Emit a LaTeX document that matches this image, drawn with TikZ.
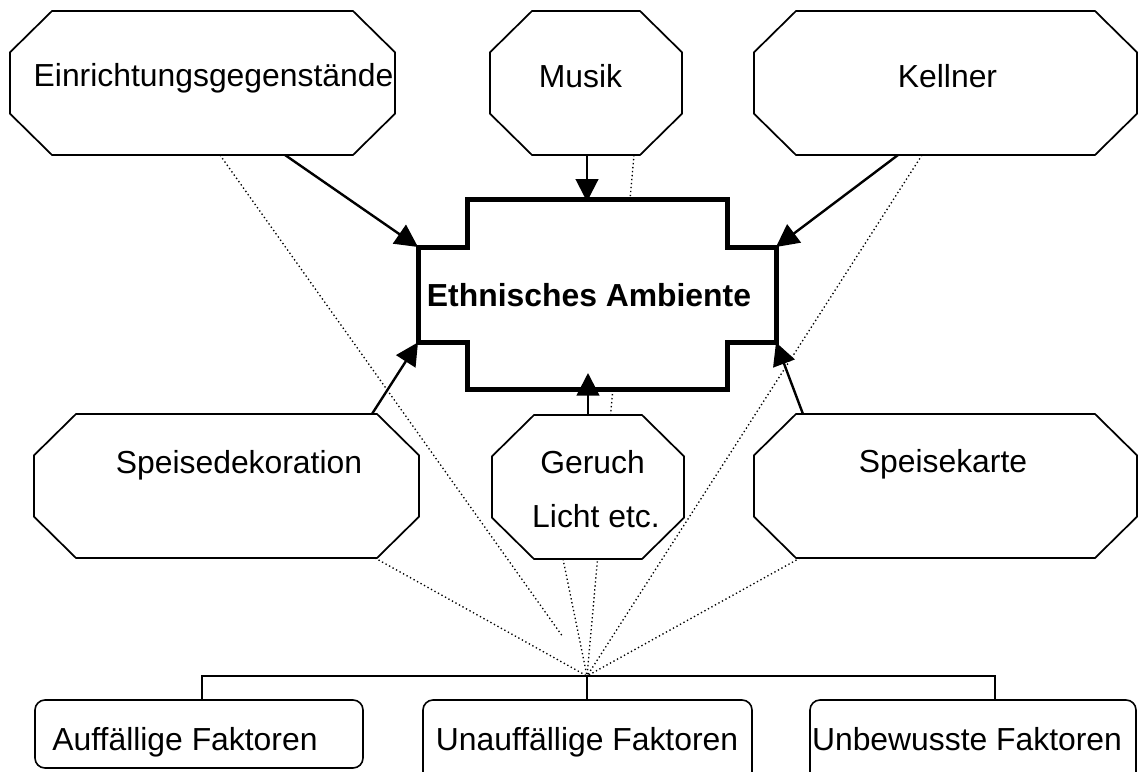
\documentclass[tikz,border=0pt]{standalone}
\usepackage{fontspec}
\setmainfont{Liberation Sans}
\usetikzlibrary{arrows.meta}
\pgfdeclarelayer{bg}
\pgfsetlayers{bg,main}
\newcommand\octa[5]{%
  \node[box, minimum width={(#4-#2)*0.75pt}, minimum height={(#5-#3)*0.75pt}] (#1) at ({(#2+#4)/2},{(#3+#5)/2}) {};
  \filldraw[octline] ([xshift=31.5pt]#1.north west) -- ([xshift=-31.5pt]#1.north east)
    -- ([yshift=-31pt]#1.north east) -- ([yshift=31pt]#1.south east)
    -- ([xshift=-31.5pt]#1.south east) -- ([xshift=31.5pt]#1.south west)
    -- ([yshift=31pt]#1.south west) -- ([yshift=-31pt]#1.north west) -- cycle;
}
\begin{document}
\begin{tikzpicture}[x=0.75pt,y=-0.75pt,
  box/.style={rectangle, draw=none, inner sep=0pt, outer sep=0pt},
  octline/.style={draw=black, line width=1.3pt, fill=white, line join=miter},
  crossline/.style={draw=black, line width=3.75pt, fill=white, line join=miter},
  rbox/.style={rectangle, rounded corners=7.5pt, draw=black, line width=1.2pt, fill=white, inner sep=0pt, outer sep=0pt},
  arr/.style={line width=1.8pt, -{Triangle[length=17pt,width=17pt]}},
  dots/.style={line width=1pt, dash pattern=on 1pt off 2pt},
  treeline/.style={line width=1.2pt},
  lbl/.style={font=\fontsize{23.9}{28}\selectfont, inner sep=0pt, anchor=base},
]
\useasboundingbox (0,0) rectangle (1138,771);
\clip (0,0) rectangle (1138,771);

% octagons
\octa{ein}{10}{11}{395}{155}
\octa{mus}{490}{11}{682}{155}
\octa{kel}{754}{11}{1137}{155}
\octa{spd}{34}{414}{419}{558}
\octa{ger}{492}{415}{684}{559}
\octa{spk}{754}{414}{1137}{558}

% central cross
\node[box, minimum width=268.5pt, minimum height=142.5pt] (amb) at (597,294) {};
\filldraw[crossline] ([xshift=36.75pt]amb.north west) -- ([xshift=-36.75pt]amb.north east)
  -- ([xshift=-36.75pt,yshift=-36pt]amb.north east) -- ([yshift=-36pt]amb.north east)
  -- ([yshift=35pt]amb.south east) -- ([xshift=-36.75pt,yshift=35pt]amb.south east)
  -- ([xshift=-36.75pt]amb.south east) -- ([xshift=36.75pt]amb.south west)
  -- ([xshift=36.75pt,yshift=35pt]amb.south west) -- ([yshift=35pt]amb.south west)
  -- ([yshift=-36pt]amb.north west) -- ([xshift=36.75pt,yshift=-36pt]amb.north west) -- cycle;

% bottom boxes
\node[rbox, minimum width=246pt, minimum height=51pt] (b1) at (199,734) {};
\node[rbox, minimum width=246.75pt, minimum height=67.5pt] (b2) at (587.5,745) {};
\node[rbox, minimum width=244.5pt, minimum height=67.5pt] (b3) at (973,745) {};

% tree
\coordinate (hub) at (587,676);
\coordinate (hl) at (202,676);
\coordinate (hr) at (995,676);
\coordinate (einEnd) at (563,637);
\draw[treeline] (hl |- b1.north) -- (hl) -- (hr) -- (hr |- b3.north);
\draw[treeline] (hub) -- (hub |- b2.north);

% dotted lines behind
\begin{pgfonlayer}{bg}
\draw[dots] ([xshift=13.1pt]ein.south) -- (einEnd);
\draw[dots] ([xshift=36pt]mus.south) -- (hub);
\draw[dots] ([xshift=-17.6pt]kel.south) -- (hub);
\draw[dots] ([xshift=111.4pt]spd.south) -- (hub);
\draw[dots] ([xshift=-18.75pt]ger.south) -- (hub);
\draw[dots] ([xshift=-109.1pt]spk.south) -- (hub);
\end{pgfonlayer}

% arrows
\draw[arr] ([xshift=61.9pt]ein.south) -- ([yshift=-36pt]amb.north west);
\draw[arr] ([xshift=0.75pt]mus.south) -- ([xshift=-7.5pt,yshift=-2pt]amb.north);
\draw[arr] ([xshift=-35.6pt]kel.south) -- ([yshift=-36pt]amb.north east);
\draw[arr] ([xshift=109.1pt]spd.north) -- ([yshift=35pt]amb.south west);
\draw[arr] (ger.north) -- ([xshift=-6.75pt,yshift=12pt]amb.south);
\draw[arr] ([xshift=-106.9pt]spk.north) -- ([yshift=35pt]amb.south east);

% labels
\node[lbl] (tein) at (213.5,86) {Einrichtungsgegenstände};
\node[lbl] (tmus) at (580.5,87) {Musik};
\node[lbl] (tkel) at (947.5,87) {Kellner};
\node[lbl, font=\fontsize{23.9}{28}\selectfont\bfseries] (tamb) at (589,306) {Ethnisches Ambiente};
\node[lbl] (tspd) at (239,473) {Speisedekoration};
\node[lbl] (tger) at (592.5,473) {Geruch};
\node[lbl] (tlic) at (596,527) {Licht etc.};
\node[lbl] (tspk) at (943,472) {Speisekarte};
\node[lbl] (tb1) at (185,750) {Auffällige Faktoren};
\node[lbl] (tb2) at (587,750) {Unauffällige Faktoren};
\node[lbl] (tb3) at (967,750) {Unbewusste Faktoren};
\end{tikzpicture}
\end{document}
